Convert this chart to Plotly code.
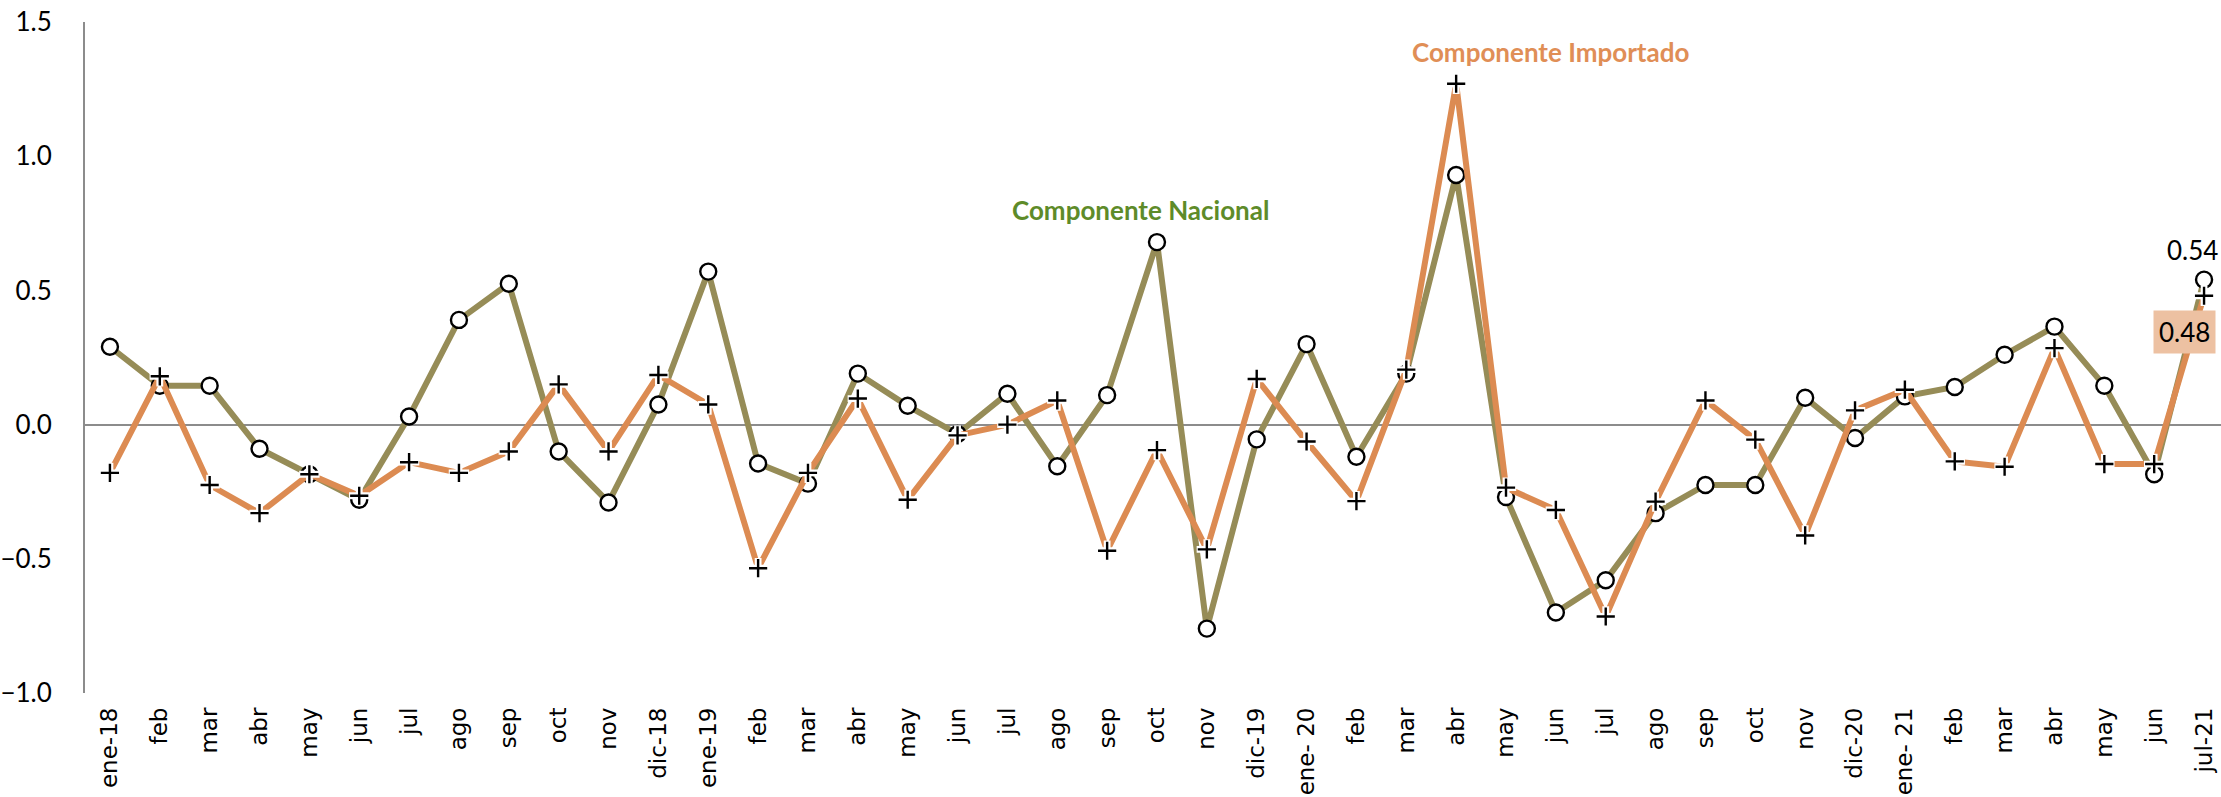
import plotly.graph_objects as go

# meses (eje x)
meses = ["ene-18", "feb", "mar", "abr", "may", "jun", "jul", "ago", "sep", "oct", "nov",
         "dic-18", "ene-19", "feb", "mar", "abr", "may", "jun", "jul", "ago", "sep", "oct",
         "nov", "dic-19", "ene- 20", "feb", "mar", "abr", "may", "jun", "jul", "ago", "sep",
         "oct", "nov", "dic-20", "ene- 21", "feb", "mar", "abr", "may", "jun", "jul-21"]

# variacion mensual, componente nacional
nacional = [0.29, 0.145, 0.145, -0.09, -0.185, -0.28, 0.03, 0.39, 0.525, -0.10, -0.29,
            0.075, 0.57, -0.145, -0.22, 0.19, 0.07, -0.035, 0.115, -0.155, 0.11, 0.68,
            -0.76, -0.055, 0.30, -0.12, 0.19, 0.93, -0.27, -0.70, -0.58, -0.33, -0.225,
            -0.225, 0.10, -0.05, 0.105, 0.14, 0.26, 0.365, 0.145, -0.185, 0.54]

# variacion mensual, componente importado
importado = [-0.18, 0.18, -0.225, -0.33, -0.185, -0.265, -0.14, -0.18, -0.10, 0.15, -0.10,
             0.185, 0.075, -0.535, -0.18, 0.097, -0.28, -0.04, 0.0, 0.09, -0.47, -0.095,
             -0.465, 0.17, -0.063, -0.285, 0.205, 1.27, -0.235, -0.318, -0.715, -0.287, 0.09,
             -0.056, -0.413, 0.053, 0.13, -0.137, -0.157, 0.285, -0.147, -0.147, 0.48]

x_idx = list(range(len(meses)))

OLIVA = "#968C57"
NARANJA = "#DC8B52"
num_font = "Lato, Noto Sans, sans-serif"

fig = go.Figure()

# componente nacional: linea + circulos
fig.add_trace(go.Scatter(
    x=x_idx, y=nacional, mode="lines+markers", name="Componente Nacional",
    line=dict(color=OLIVA, width=6),
    marker=dict(symbol="circle", size=16, color="white", line=dict(color="black", width=2.4)),
))

# componente importado: linea
fig.add_trace(go.Scatter(
    x=x_idx, y=importado, mode="lines", name="Componente Importado",
    line=dict(color=NARANJA, width=6),
))
# halo blanco de las cruces
fig.add_trace(go.Scatter(
    x=x_idx, y=importado, mode="markers", hoverinfo="skip",
    marker=dict(symbol="cross", size=17, color="white", line=dict(width=0)),
))
fig.add_trace(go.Scatter(
    x=x_idx, y=importado, mode="markers", hoverinfo="skip",
    marker=dict(symbol="cross-thin-open", size=13, color="black", line=dict(color="black", width=2.4)),
))

fig.add_annotation(x=20.66, y=0.80, text="<b>Componente Nacional</b>", showarrow=False,
                   font=dict(family=num_font, size=26, color="#5E8B29"))
fig.add_annotation(x=28.9, y=1.39, text="<b>Componente Importado</b>", showarrow=False,
                   font=dict(family=num_font, size=26, color="#E08E56"))
fig.add_annotation(x=x_idx[-1], y=nacional[-1], text=f"{nacional[-1]:.2f}", showarrow=False,
                   xshift=-12, yshift=30, font=dict(family=num_font, size=26, color="black"))
fig.add_annotation(x=x_idx[-1], y=importado[-1], text=f"{importado[-1]:.2f}", showarrow=False,
                   xshift=-20, yshift=-36, bgcolor="#EDC1A2", borderpad=5,
                   font=dict(family=num_font, size=26, color="black"))

fig.update_layout(
    width=2221, height=797,
    margin=dict(l=85, r=0, t=22, b=104),
    plot_bgcolor="white", paper_bgcolor="white",
    showlegend=False,
    xaxis=dict(
        tickmode="array", tickvals=x_idx, ticktext=meses,
        range=[-0.5, 42.34], tickangle=-90, ticks="",
        showgrid=False, zeroline=False, showline=False,
        automargin=False, ticklabelstandoff=9,
        tickfont=dict(family="DejaVu Sans", size=23, color="black"),
    ),
    yaxis=dict(
        range=[-1.0, 1.5], dtick=0.5, tickformat=".1f",
        showgrid=False, showline=True, linecolor="#8C8C8C", linewidth=2,
        zeroline=True, zerolinecolor="#8C8C8C", zerolinewidth=2,
        ticks="", automargin=False, ticklabelstandoff=26,
        tickfont=dict(family=num_font, size=26, color="black"),
    ),
)

# sin margen del body para que la figura empiece en (0, 0)
fig.write_html("out.html", config={"displayModeBar": False},
               post_script="document.body.style.margin='0px';")
